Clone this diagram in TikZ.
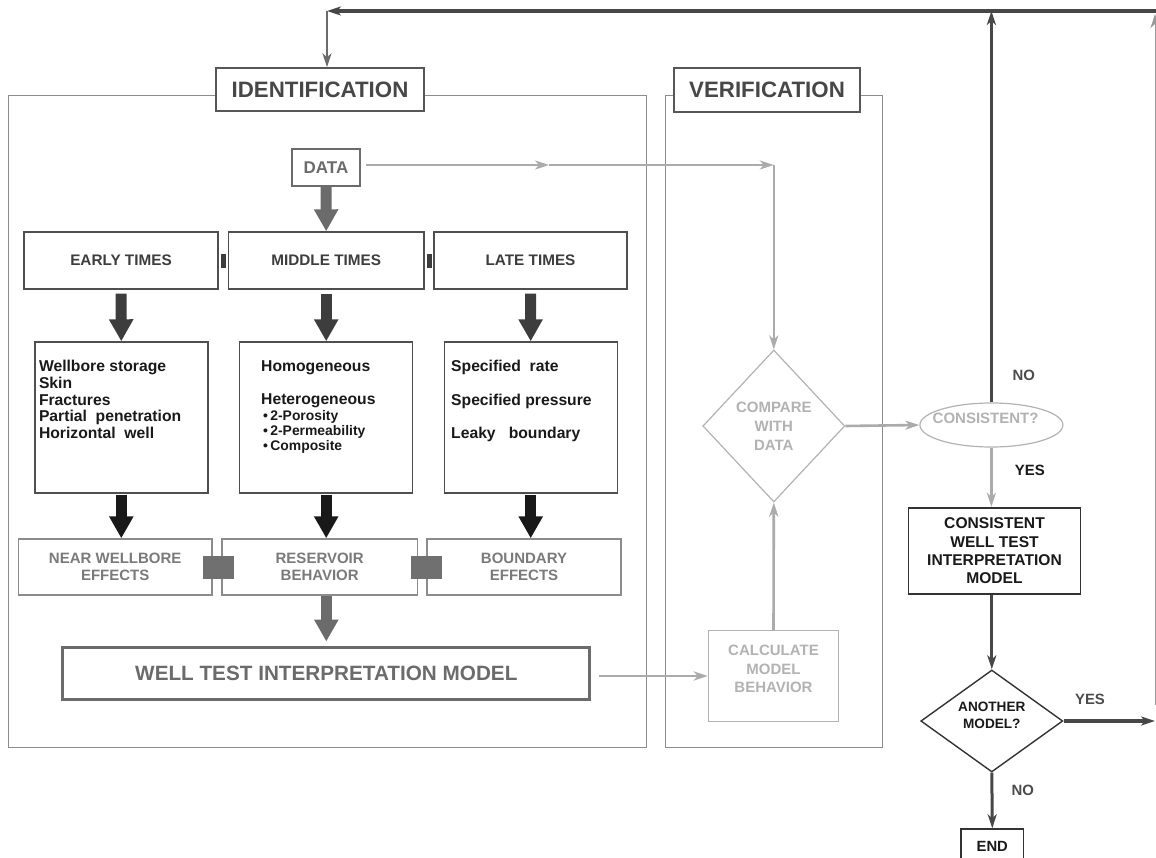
\documentclass[tikz,border=0pt]{standalone}
\usepackage{fontspec}
\setmainfont{Liberation Sans}
\usetikzlibrary{arrows.meta,shapes.geometric}

\begin{document}
\begin{tikzpicture}[x=1pt,y=-1pt,>={Stealth[length=14pt,width=9pt,inset=4pt]},font=\bfseries,
  plainbox/.style={draw=black!69,line width=1.4pt,inner sep=0pt,align=center},
  header/.style={plainbox,draw=black!66,fill=white,text=black!72,font=\bfseries\fontsize{22.3}{26}\selectfont},
  databox/.style={plainbox,draw=black!58,text=black!58,font=\bfseries\fontsize{17}{20}\selectfont},
  timebox/.style={plainbox,text=black!76,minimum height=57pt,font=\bfseries\fontsize{15.3}{18}\selectfont},
  listbox/.style={plainbox,minimum width=173pt,minimum height=151pt},
  listtext/.style={inner sep=0pt,anchor=north west,align=left,text=black!90,font=\bfseries\fontsize{15.7}{16.6}\selectfont},
  subtext/.style={listtext,font=\bfseries\fontsize{13.9}{15}\selectfont},
  effbox/.style={plainbox,draw=black!45,text=black!52,minimum height=56pt,font=\bfseries\fontsize{15}{16.7}\selectfont},
  modelbox/.style={plainbox,draw=black!58,line width=3pt,text=black!58,font=\bfseries\fontsize{20.7}{24}\selectfont},
  palebox/.style={plainbox,draw=black!30,text=black!30,font=\bfseries\fontsize{15}{18.8}\selectfont},
  darkbox/.style={plainbox,draw=black!80,text=black!90,font=\bfseries\fontsize{15.6}{18.3}\selectfont},
  answer/.style={inner sep=0pt,text=black!70,font=\bfseries\fontsize{14.9}{18}\selectfont},
  panel/.style={draw=black!45,line width=0.9pt},
  fatarrow/.style={line width=11pt,-{Triangle[length=22pt,width=23pt]}},
  palelink/.style={->,draw=black!33,line width=2.6pt},
  darklink/.style={->,draw=black!72,line width=3pt},
  joint/.style={fill=black!76,inner sep=0pt,minimum width=5pt,minimum height=14pt},
  bigjoint/.style={fill=black!56,inner sep=0pt,minimum width=31pt,minimum height=23pt}]
% pixel grid of the scan: x to the right, y downwards
\clip (0,0) rectangle (1156,858);
\draw[panel] (8.4,95) rectangle (646.8,747);
\draw[panel] (665,95) rectangle (882.5,747);
\node[header,minimum width=208pt,minimum height=43pt] (ident) at (320,89.5) {IDENTIFICATION};
\node[header,minimum width=186pt,minimum height=44pt] (verif) at (767,90) {VERIFICATION};
\node[databox,minimum width=68pt,minimum height=37pt] (data) at (326,167.5) {DATA};
\node[timebox,minimum width=194pt] (early) at (121,260.5) {EARLY TIMES};
\node[timebox,minimum width=195.5pt] (middle) at (326.2,260.5) {MIDDLE TIMES};
\node[timebox,minimum width=193pt] (late) at (530.5,260.5) {LATE TIMES};
\node[joint] (earlyjoint) at (223.5,261) {};
\node[joint] (latejoint) at (429,261) {};
\node[listbox] (wellbore) at (121.3,417.5) {};
\node[listbox] (reservoir) at (326.2,417.5) {};
\node[listbox] (boundary) at (530.7,417.5) {};
\node[listtext] (wellboretext) at (38.8,360.4) {Wellbore storage\\Skin\\Fractures\\Partial~ penetration\\Horizontal~ well};
\node[listtext] (reservoirtext) at (261,360.4) {Homogeneous\\[16.6pt]Heterogeneous};
\node[subtext] (reservoirsub) at (263,410) {•\,2-Porosity\\•\,2-Permeability\\•\,Composite};
\node[listtext] (boundarytext) at (451,360.4) {Specified~ rate\\[16.6pt]Specified pressure\\[16.6pt]Leaky~~ boundary};
\node[effbox,minimum width=193.6pt] (neareff) at (115.2,567) {NEAR WELLBORE\\EFFECTS};
\node[effbox,minimum width=195.4pt] (reseff) at (319.7,567) {RESERVOIR\\BEHAVIOR};
\node[effbox,minimum width=194pt] (boundeff) at (524,567) {BOUNDARY\\EFFECTS};
\node[bigjoint] (nearjoint) at (218.8,567.5) {};
\node[bigjoint] (boundjoint) at (426.3,567.5) {};
\node[modelbox,minimum width=527pt,minimum height=52pt] (model) at (326.3,673) {WELL TEST INTERPRETATION MODEL};
\node[palebox,minimum width=130pt,minimum height=91pt] (calc) at (773.5,676) {};
\node[palebox,draw=none] (calctext) at (773.5,669) {CALCULATE\\MODEL\\BEHAVIOR};
\node[palebox,diamond,minimum width=142pt,minimum height=152pt,line width=1.2pt] (compare) at (773.8,426) {COMPARE\\WITH\\DATA};
\node[palebox,ellipse,minimum width=143pt,minimum height=44pt,line width=1.2pt] (consist) at (991.4,425) {};
\node[palebox,draw=none] (consisttext) at (985.6,418) {CONSISTENT?};
\node[darkbox,minimum width=172pt,minimum height=86.5pt,line width=1.8pt] (valid) at (994.5,551) {CONSISTENT\\WELL TEST\\INTERPRETATION\\MODEL};
\node[darkbox,diamond,minimum width=142pt,minimum height=102pt,line width=1.4pt] (another) at (991.8,721) {};
\node[darkbox,draw=none,font=\bfseries\fontsize{13.6}{17}\selectfont] (anothertext) at (991.8,715.5) {ANOTHER\\MODEL?};
\node[darkbox,minimum width=62.7pt,minimum height=35pt,line width=1.4pt,font=\bfseries\fontsize{14.8}{18}\selectfont] (finish) at (992.3,846.5) {END};
\node[answer] (consistno) at (1023.7,375) {NO};
\node[answer,text=black!90] (consistyes) at (1029.8,470) {YES};
\node[answer] (anotheryes) at (1090,699) {YES};
\node[answer] (anotherno) at (1022.7,790) {NO};
\coordinate (topright) at (1156,11);
\coordinate (topcorner) at (327,11);
\coordinate (datamid) at (549,165);
\coordinate (datacorner) at (773.8,165);
\coordinate (edgelow) at (1155,705);
\coordinate (yesend) at (1155,721);
\draw[darklink,line width=3.5pt] (topright) -- (topcorner);
\draw[->,black!58,line width=2pt] (topcorner) -- (topcorner |- ident.north);
\draw[fatarrow,black!58] (data.south) -- (middle.north);
\foreach \from/\to in {early/wellbore,middle/reservoir,late/boundary}
  \draw[fatarrow,black!76,shorten <=4pt] (\from.south) -- (\to.north);
\foreach \from/\to in {wellbore/neareff,reservoir/reseff,boundary/boundeff}
  \draw[fatarrow,black!90,shorten <=1pt] (\from.south) -- (\from.south |- \to.north);
\draw[fatarrow,black!58,shorten >=4pt] (model.north |- reseff.south) -- (model.north);
\draw[palelink,line width=2.2pt,shorten <=5pt] (data.east |- datamid) -- (datamid);
\draw[palelink,line width=2.2pt] (datamid) -- (datacorner);
\draw[palelink,line width=2.2pt] (datacorner) -- (compare.north);
\draw[palelink,shorten <=8pt] (model.east |- calc.west) -- (calc.west);
\draw[palelink] (calc.north) -- (compare.south);
\draw[palelink] (compare.east) -- (consist.west);
\draw[palelink] (consist.south) -- (consist.south |- valid.north);
\draw[darklink] (consist.north) -- (consist.north |- topright);
\draw[darklink] (valid.south -| another.north) -- (another.north);
\draw[darklink] (another.south) -- (finish.north);
\draw[darklink,line width=3.5pt] (another.east) -- (yesend);
\draw[->,black!40,line width=0.8pt,shorten >=3pt] (edgelow) -- (edgelow |- topright);
\end{tikzpicture}
\end{document}
